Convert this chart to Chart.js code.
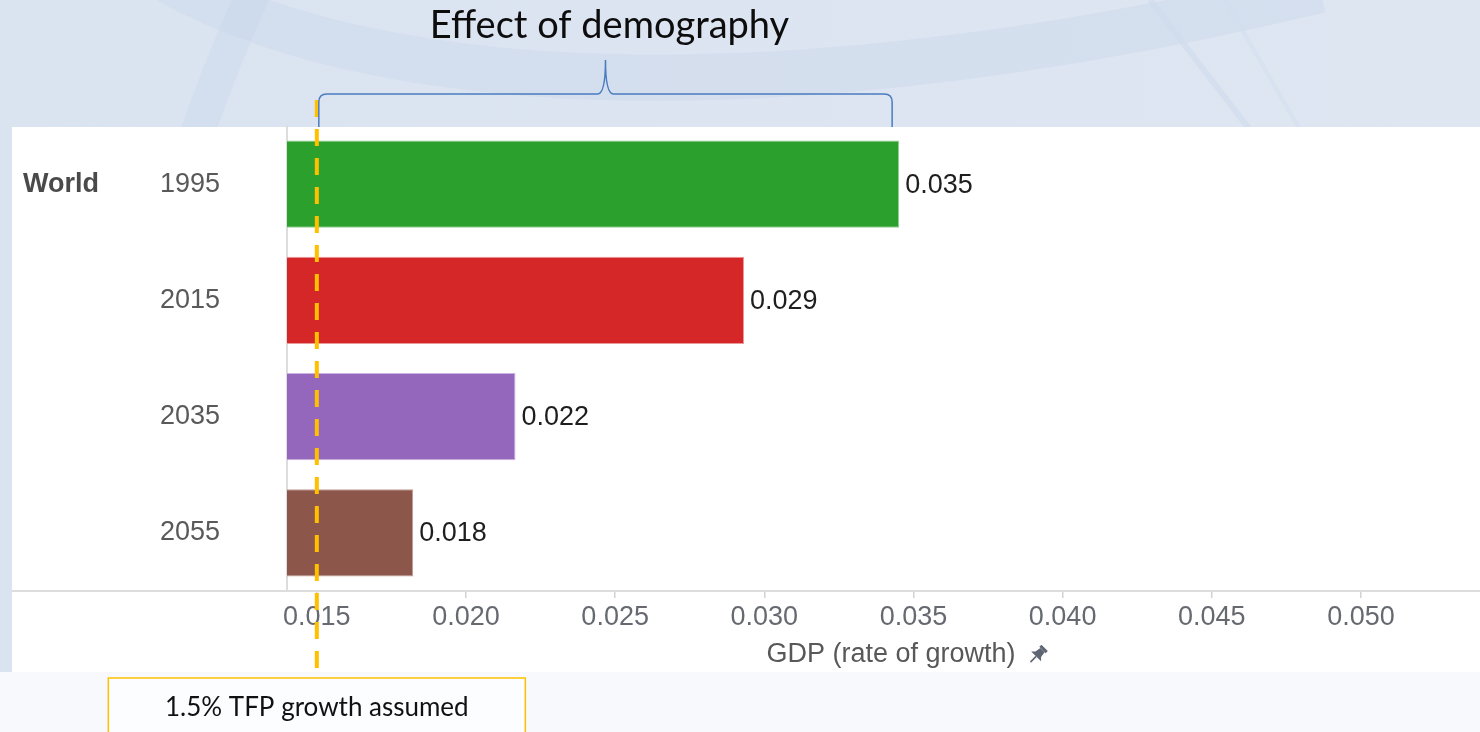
<!DOCTYPE html>
<html>
<head>
<meta charset="utf-8">
<script src="https://cdn.jsdelivr.net/npm/chart.js@4.4.1/dist/chart.umd.min.js"></script>
<style>
  html, body { margin: 0; padding: 0; width: 1480px; height: 732px; overflow: hidden; background: #dbe4f1; }
  #bg { position: absolute; left: 0; top: 0; }
  #panel { position: absolute; left: 12px; top: 127px; width: 1468px; height: 545px; background: #ffffff; }
  #foot { position: absolute; left: 0; top: 672px; width: 1480px; height: 60px; background: #f7f9fc; }
  #wrap { position: absolute; left: 0; top: 0; width: 1525px; height: 732px; }
</style>
</head>
<body>
<svg id="bg" width="1480" height="732">
  <defs>
    <linearGradient id="sky" x1="0" y1="0" x2="1" y2="0">
      <stop offset="0" stop-color="#dae3f0"/>
      <stop offset="1" stop-color="#dee6f2"/>
    </linearGradient>
  </defs>
  <rect width="1480" height="732" fill="url(#sky)"/>
  <path d="M 150 -30 C 380 110, 820 110, 1320 -10" stroke="#c9d8ec" stroke-width="46" fill="none" opacity="0.45"/>
  <path d="M 255 -10 C 232 40, 212 90, 195 140" stroke="#c8d7ec" stroke-width="34" fill="none" opacity="0.4"/>
  <path d="M 1150 0 L 1250 130" stroke="#cfdbec" stroke-width="6" fill="none" opacity="0.6"/>
  <path d="M 1225 0 L 1300 130" stroke="#d2ddee" stroke-width="4" fill="none" opacity="0.5"/>
</svg>
<div id="panel"></div>
<div id="foot"></div>
<div id="wrap"><canvas id="c" width="1525" height="732"></canvas></div>

<script>
// GDP growth by period for the world, with a TFP growth assumption overlay
const regionLabel = 'World';
const years = ['1995', '2015', '2035', '2055'];
const gdpGrowth = [0.03452, 0.02932, 0.02166, 0.01823];
const barColors = ['#2ca02c', '#d62728', '#9467bd', '#8c564b'];
const barEdges = ['#8fd08f', '#eb9a9b', '#c9b2e0', '#c19b92'];
const tickValues = [0.015, 0.020, 0.025, 0.030, 0.035, 0.040, 0.045, 0.050];
const tfpGrowth = 0.015;
const headline = 'Effect of demography';
const tfpNote = '1.5% TFP growth assumed';
const axisTitle = 'GDP (rate of growth)';

const SANS = '"Liberation Sans", Arial, sans-serif';
const SLIDE = 'Lato, "Open Sans", sans-serif';

function drawPin(ctx, cx, cy) {
  ctx.save();
  ctx.translate(cx, cy);
  ctx.rotate(Math.PI / 4);
  ctx.fillStyle = '#5f6673';
  ctx.strokeStyle = '#5f6673';
  ctx.fillRect(-4.5, -10, 9, 3);
  ctx.beginPath();
  ctx.moveTo(-3, -7);
  ctx.lineTo(3, -7);
  ctx.lineTo(4, -1);
  ctx.lineTo(7, 2);
  ctx.lineTo(-7, 2);
  ctx.lineTo(-4, -1);
  ctx.closePath();
  ctx.fill();
  ctx.lineWidth = 1.6;
  ctx.beginPath();
  ctx.moveTo(0, 2);
  ctx.lineTo(0, 10);
  ctx.stroke();
  ctx.restore();
}

const overlay = {
  id: 'overlay',
  afterDatasetsDraw(chart) {
    const ctx = chart.ctx;
    const xs = chart.scales.x, ys = chart.scales.y;
    const area = chart.chartArea;
    const meta = chart.getDatasetMeta(0);

    // value labels at bar ends
    ctx.save();
    ctx.font = '27px ' + SANS;
    ctx.fillStyle = '#1e1e1e';
    ctx.textAlign = 'left';
    ctx.textBaseline = 'middle';
    meta.data.forEach((bar, i) => {
      ctx.fillText(gdpGrowth[i].toFixed(3), bar.x + 6, bar.y + 1);
    });
    ctx.restore();

    // group label
    ctx.save();
    ctx.font = 'bold 27px ' + SANS;
    ctx.fillStyle = '#4a4a4a';
    ctx.textBaseline = 'middle';
    ctx.fillText(regionLabel, 23, ys.getPixelForValue(0));
    ctx.restore();

    // x axis line continues to the panel edge
    ctx.save();
    ctx.strokeStyle = '#dddddd';
    ctx.lineWidth = 2;
    ctx.beginPath();
    ctx.moveTo(12, area.bottom);
    ctx.lineTo(area.left, area.bottom);
    ctx.stroke();
    ctx.restore();

    // pin after the axis title
    ctx.save();
    ctx.font = '27px ' + SANS;
    const full = ctx.measureText(xs.options.title.text).width;
    const start = (area.left + area.right) / 2 - full / 2;
    const textEnd = start + ctx.measureText(axisTitle).width;
    ctx.restore();
    drawPin(ctx, textEnd + 22, 655);

    // TFP assumption line
    const x0 = xs.getPixelForValue(tfpGrowth);
    ctx.save();
    ctx.strokeStyle = '#ffc000';
    ctx.lineWidth = 4;
    ctx.setLineDash([17, 12]);
    ctx.beginPath();
    ctx.moveTo(x0, 100);
    ctx.lineTo(x0, 678);
    ctx.stroke();
    ctx.restore();

    // note box
    const boxW = 417;
    ctx.save();
    ctx.fillStyle = '#fcfdfe';
    ctx.strokeStyle = '#ffc000';
    ctx.lineWidth = 1.5;
    ctx.fillRect(x0 - boxW / 2, 678, boxW, 70);
    ctx.strokeRect(x0 - boxW / 2, 678, boxW, 70);
    ctx.font = '26px ' + SLIDE;
    ctx.fillStyle = '#111111';
    ctx.textAlign = 'center';
    ctx.textBaseline = 'middle';
    ctx.fillText(tfpNote, x0, 708);
    ctx.restore();

    // brace spanning from the TFP line to the 1995 bar
    const L = x0 + 2;
    const R = xs.getPixelForValue(Math.max(...gdpGrowth)) - 7;
    const M = (L + R) / 2;
    const yb = 94, yTop = 60, yEnd = 127, r = 8;
    ctx.save();
    ctx.strokeStyle = '#4a7cc0';
    ctx.lineWidth = 1.5;
    ctx.beginPath();
    ctx.moveTo(L, yEnd);
    ctx.lineTo(L, yb + r);
    ctx.quadraticCurveTo(L, yb, L + r, yb);
    ctx.lineTo(M - r, yb);
    ctx.quadraticCurveTo(M, yb, M, yTop);
    ctx.quadraticCurveTo(M, yb, M + r, yb);
    ctx.lineTo(R - r, yb);
    ctx.quadraticCurveTo(R, yb, R, yb + r);
    ctx.lineTo(R, yEnd);
    ctx.stroke();

    // headline above the brace
    ctx.font = '38px ' + SLIDE;
    ctx.fillStyle = '#0d0d0d';
    ctx.textAlign = 'center';
    ctx.textBaseline = 'middle';
    ctx.fillText(headline, M + 4, 26);
    ctx.restore();
  }
};

new Chart(document.getElementById('c'), {
  type: 'bar',
  data: {
    labels: years,
    datasets: [{
      data: gdpGrowth,
      backgroundColor: barColors,
      borderColor: barEdges,
      borderWidth: 1,
      barPercentage: 0.75,
      categoryPercentage: 1
    }]
  },
  options: {
    indexAxis: 'y',
    responsive: false,
    animation: false,
    layout: { padding: { top: 126, right: 0, bottom: 60, left: 0 } },
    plugins: { legend: { display: false }, tooltip: { enabled: false } },
    scales: {
      x: {
        type: 'linear',
        min: 0.014,
        max: 0.0555,
        afterBuildTicks(s) { s.ticks = tickValues.map(v => ({ value: v })); },
        afterFit(s) { s.height = 81; },
        grid: { drawOnChartArea: false, tickLength: 7, color: '#d2d2d2', lineWidth: 1.5 },
        border: { color: '#dddddd', width: 2 },
        ticks: {
          padding: 3,
          color: '#666a70',
          font: { family: SANS, size: 27 },
          maxRotation: 0,
          autoSkip: false,
          callback: v => Number(v).toFixed(3)
        },
        title: {
          display: true,
          text: axisTitle + '    ',
          color: '#585858',
          font: { family: SANS, size: 27 },
          padding: { top: 0, bottom: 1 }
        }
      },
      y: {
        afterFit(s) { s.width = 287; },
        grid: { display: false, drawTicks: false },
        border: { display: true, color: '#dddddd', width: 2 },
        ticks: {
          padding: 67,
          color: '#595959',
          font: { family: SANS, size: 27 }
        }
      }
    }
  },
  plugins: [overlay]
});
</script>
</body>
</html>
